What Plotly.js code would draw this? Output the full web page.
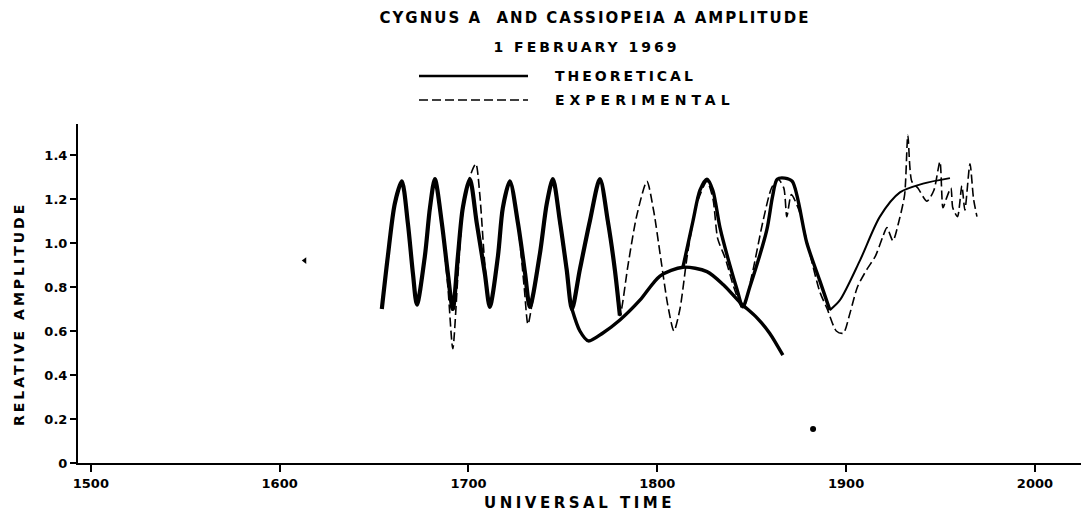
<!DOCTYPE html>
<html>
<head>
<meta charset="utf-8">
<script src="https://cdn.plot.ly/plotly-3.0.1.min.js"></script>
<style>
  html, body { margin: 0; padding: 0; background: #ffffff; }
  #chart { width: 1081px; height: 522px; }
  .gtitle { letter-spacing: 2px; }
  .annotation[data-index="0"] .annotation-text { letter-spacing: 3px; }
  .annotation[data-index="1"] .annotation-text { letter-spacing: 3px; }
  .annotation[data-index="2"] .annotation-text { letter-spacing: 5px; }
  .annotation[data-index="3"] .annotation-text { letter-spacing: 3px; }
  .xtitle { letter-spacing: 3.5px; }
</style>
</head>
<body>
<div id="chart"></div>
<script>
// Universal time (HHMM) and relative amplitude, 1 February 1969

// Theoretical curve: interference fringes up to ~1780 UT
const thOscTime = [1654.1, 1657.3, 1661.0, 1664.7, 1667.9, 1670.6, 1672.7, 1676.9, 1679.6, 1682.2,
  1685.9, 1689.1, 1691.7, 1694.4, 1697.0, 1700.7, 1704.4, 1708.7, 1711.3, 1715.6,
  1718.2, 1721.9, 1726.2, 1730.0, 1732.5, 1737.8, 1741.5, 1744.7, 1748.4, 1752.0,
  1754.8, 1759.0, 1764.3, 1769.6, 1773.8, 1777.5, 1780.2];
const thOscAmp = [0.70, 0.94, 1.18, 1.28, 1.09, 0.86, 0.72, 0.94, 1.16, 1.29,
  1.09, 0.86, 0.70, 0.94, 1.16, 1.29, 1.09, 0.86, 0.71, 0.94,
  1.16, 1.28, 1.09, 0.86, 0.71, 0.95, 1.18, 1.29, 1.10, 0.88,
  0.70, 0.88, 1.10, 1.29, 1.10, 0.88, 0.67];

// Theoretical curve: slow arch between the fringes
const thArchTime = [1754.8, 1759.0, 1763.5, 1771.0, 1780.2, 1790.8, 1801.4, 1813.6, 1826.3, 1835.0,
  1843.8, 1852.8, 1859.5, 1866.5];
const thArchAmp = [0.70, 0.60, 0.555, 0.59, 0.65, 0.74, 0.85, 0.89, 0.87, 0.81,
  0.73, 0.66, 0.59, 0.49];

// Theoretical curve: last two fringes
const thLateTime = [1813.6, 1818.9, 1822.6, 1826.3, 1829.4, 1833.2, 1838.4, 1842.2, 1845.3, 1849.0,
  1858.0, 1861.0, 1863.5, 1867.5, 1871.5, 1879.2, 1886.0, 1891.4];
const thLateAmp = [0.89, 1.10, 1.24, 1.29, 1.24, 1.07, 0.90, 0.79, 0.71, 0.80,
  1.06, 1.21, 1.29, 1.295, 1.28, 1.00, 0.83, 0.695];

// Theoretical curve: recovery after 1900 UT
const thRiseTime = [1891.4, 1896.7, 1907.3, 1917.9, 1928.5, 1940.7, 1955.0];
const thRiseAmp = [0.695, 0.74, 0.92, 1.12, 1.23, 1.27, 1.295];

// Experimental record
const expTime = [1654.1, 1657.3, 1661.0, 1664.7, 1667.9, 1670.6, 1672.7, 1676.9, 1679.6, 1682.2,
  1685.9, 1689.1, 1691.7, 1694.4, 1697.0, 1700.7, 1703.9, 1706.0, 1708.7, 1711.3,
  1715.6, 1718.2, 1721.9, 1726.2, 1729.5, 1731.5, 1734.0, 1737.8, 1741.5, 1744.7,
  1748.4, 1752.0, 1754.8, 1759.0, 1764.3, 1769.6, 1773.8, 1777.5, 1780.2, 1784.5,
  1789.0, 1794.5, 1798.0, 1802.0, 1805.5, 1808.8, 1812.0, 1816.0, 1821.0, 1826.3,
  1829.5, 1832.0, 1836.0, 1840.5, 1845.3, 1850.0, 1856.0, 1860.5, 1864.0, 1867.0,
  1868.6, 1871.0, 1875.0, 1880.0, 1886.0, 1890.0, 1894.8, 1898.5, 1902.0, 1906.0,
  1911.0, 1915.5, 1919.5, 1921.6, 1924.8, 1928.0, 1931.0, 1932.7, 1934.8, 1938.0,
  1942.8, 1946.5, 1949.7, 1951.3, 1953.0, 1955.5, 1956.5, 1959.0, 1961.3, 1962.9,
  1965.6, 1967.5, 1969.3];
const expAmp = [0.70, 0.93, 1.17, 1.28, 1.08, 0.85, 0.72, 0.93, 1.15, 1.29,
  1.08, 0.80, 0.52, 0.85, 1.14, 1.30, 1.36, 1.22, 0.90, 0.71,
  0.93, 1.15, 1.28, 1.08, 0.80, 0.63, 0.74, 0.94, 1.17, 1.29,
  1.08, 0.86, 0.69, 0.88, 1.10, 1.29, 1.08, 0.87, 0.67, 0.90,
  1.12, 1.28, 1.15, 0.92, 0.72, 0.60, 0.70, 0.95, 1.18, 1.28,
  1.20, 1.02, 0.93, 0.80, 0.70, 0.85, 1.10, 1.25, 1.29, 1.25,
  1.12, 1.22, 1.15, 0.98, 0.78, 0.70, 0.60, 0.59, 0.68, 0.80,
  0.88, 0.94, 1.03, 1.07, 1.01, 1.10, 1.22, 1.49, 1.28, 1.25,
  1.19, 1.24, 1.37, 1.16, 1.20, 1.25, 1.16, 1.12, 1.26, 1.15,
  1.36, 1.20, 1.12];

// Isolated marks on the record
const markTime = [1613.3, 1882.5];
const markAmp = [0.92, 0.155];
const markSymbol = ['triangle-left', 'circle'];

// Axis ticks
const xTickVals = [1500, 1600, 1700, 1800, 1900, 2000];
const xTickText = ['1500', '1600', '1700', '1800', '1900', '2000'];
const yTickVals = [0, 0.2, 0.4, 0.6, 0.8, 1.0, 1.2, 1.4];
const yTickText = ['0', '0.2', '0.4', '0.6', '0.8', '1.0', '1.2', '1.4'];

const INK = '#000000';
const FONT = 'DejaVu Sans, Liberation Sans, sans-serif';

const theoLine = (w) => ({ color: INK, width: w, shape: 'spline', smoothing: 0.8 });

const traces = [
  { x: thOscTime, y: thOscAmp, type: 'scatter', mode: 'lines', name: 'THEORETICAL', line: theoLine(4.2) },
  { x: thArchTime, y: thArchAmp, type: 'scatter', mode: 'lines', name: 'THEORETICAL', line: theoLine(3.4) },
  { x: thLateTime, y: thLateAmp, type: 'scatter', mode: 'lines', name: 'THEORETICAL', line: theoLine(3.4) },
  { x: thRiseTime, y: thRiseAmp, type: 'scatter', mode: 'lines', name: 'THEORETICAL', line: theoLine(2.0) },
  { x: expTime, y: expAmp, type: 'scatter', mode: 'lines', name: 'EXPERIMENTAL',
    line: { color: INK, width: 1.6, dash: '9px,4px', shape: 'spline', smoothing: 0.7 } },
  { x: markTime, y: markAmp, type: 'scatter', mode: 'markers', name: '',
    marker: { color: INK, size: 6, symbol: markSymbol } }
];

const px = (p) => (p - 78) / 1003;       // horizontal pixel -> paper
const py = (p) => (463 - p) / 339;       // vertical pixel -> paper

const layout = {
  width: 1081,
  height: 522,
  paper_bgcolor: '#ffffff',
  plot_bgcolor: '#ffffff',
  showlegend: false,
  margin: { l: 78, r: 0, t: 124, b: 59, pad: 0 },
  font: { family: FONT, color: INK, size: 13, weight: 'bold' },
  title: {
    text: 'CYGNUS A  AND CASSIOPEIA A AMPLITUDE',
    x: 595 / 1081, xanchor: 'center',
    y: 1 - 18 / 522, yanchor: 'middle',
    font: { family: FONT, size: 15, color: INK, weight: 'bold' }
  },
  xaxis: {
    range: [1493.2, 2024.4],
    tickvals: xTickVals, ticktext: xTickText,
    ticks: 'outside', ticklen: 7, tickwidth: 2, tickcolor: INK,
    showline: true, linewidth: 2, linecolor: INK,
    showgrid: false, zeroline: false,
    tickfont: { family: FONT, size: 13, color: INK, weight: 'bold' },
    title: { text: 'UNIVERSAL TIME', standoff: 8,
      font: { family: FONT, size: 15, color: INK, weight: 'bold' } }
  },
  yaxis: {
    range: [0, 1.541],
    tickvals: yTickVals, ticktext: yTickText,
    ticks: 'outside', ticklen: 6, tickwidth: 2, tickcolor: INK,
    showline: true, linewidth: 2, linecolor: INK,
    showgrid: false, zeroline: false,
    tickfont: { family: FONT, size: 13, color: INK, weight: 'bold' }
  },
  annotations: [
    { text: '1 FEBRUARY 1969', xref: 'paper', yref: 'paper', x: px(586), y: py(47),
      xanchor: 'center', yanchor: 'middle', showarrow: false,
      font: { family: FONT, size: 14, color: INK, weight: 'bold' } },
    { text: 'THEORETICAL', xref: 'paper', yref: 'paper', x: px(553), y: py(76),
      xanchor: 'left', yanchor: 'middle', align: 'left', showarrow: false,
      font: { family: FONT, size: 14, color: INK, weight: 'bold' } },
    { text: 'EXPERIMENTAL', xref: 'paper', yref: 'paper', x: px(553), y: py(100),
      xanchor: 'left', yanchor: 'middle', align: 'left', showarrow: false,
      font: { family: FONT, size: 14, color: INK, weight: 'bold' } },
    { text: 'RELATIVE AMPLITUDE', xref: 'paper', yref: 'paper', x: px(19), y: py(314),
      xanchor: 'center', yanchor: 'middle', textangle: -90, showarrow: false,
      font: { family: FONT, size: 14, color: INK, weight: 'bold' } }
  ],
  shapes: [
    { type: 'line', xref: 'paper', yref: 'paper', x0: px(419), x1: px(528), y0: py(76), y1: py(76),
      line: { color: INK, width: 2.5 } },
    { type: 'line', xref: 'paper', yref: 'paper', x0: px(419), x1: px(528), y0: py(100), y1: py(100),
      line: { color: INK, width: 1.6, dash: '9px,4px' } }
  ]
};

Plotly.newPlot('chart', traces, layout, { displayModeBar: false, staticPlot: true });
</script>
</body>
</html>
